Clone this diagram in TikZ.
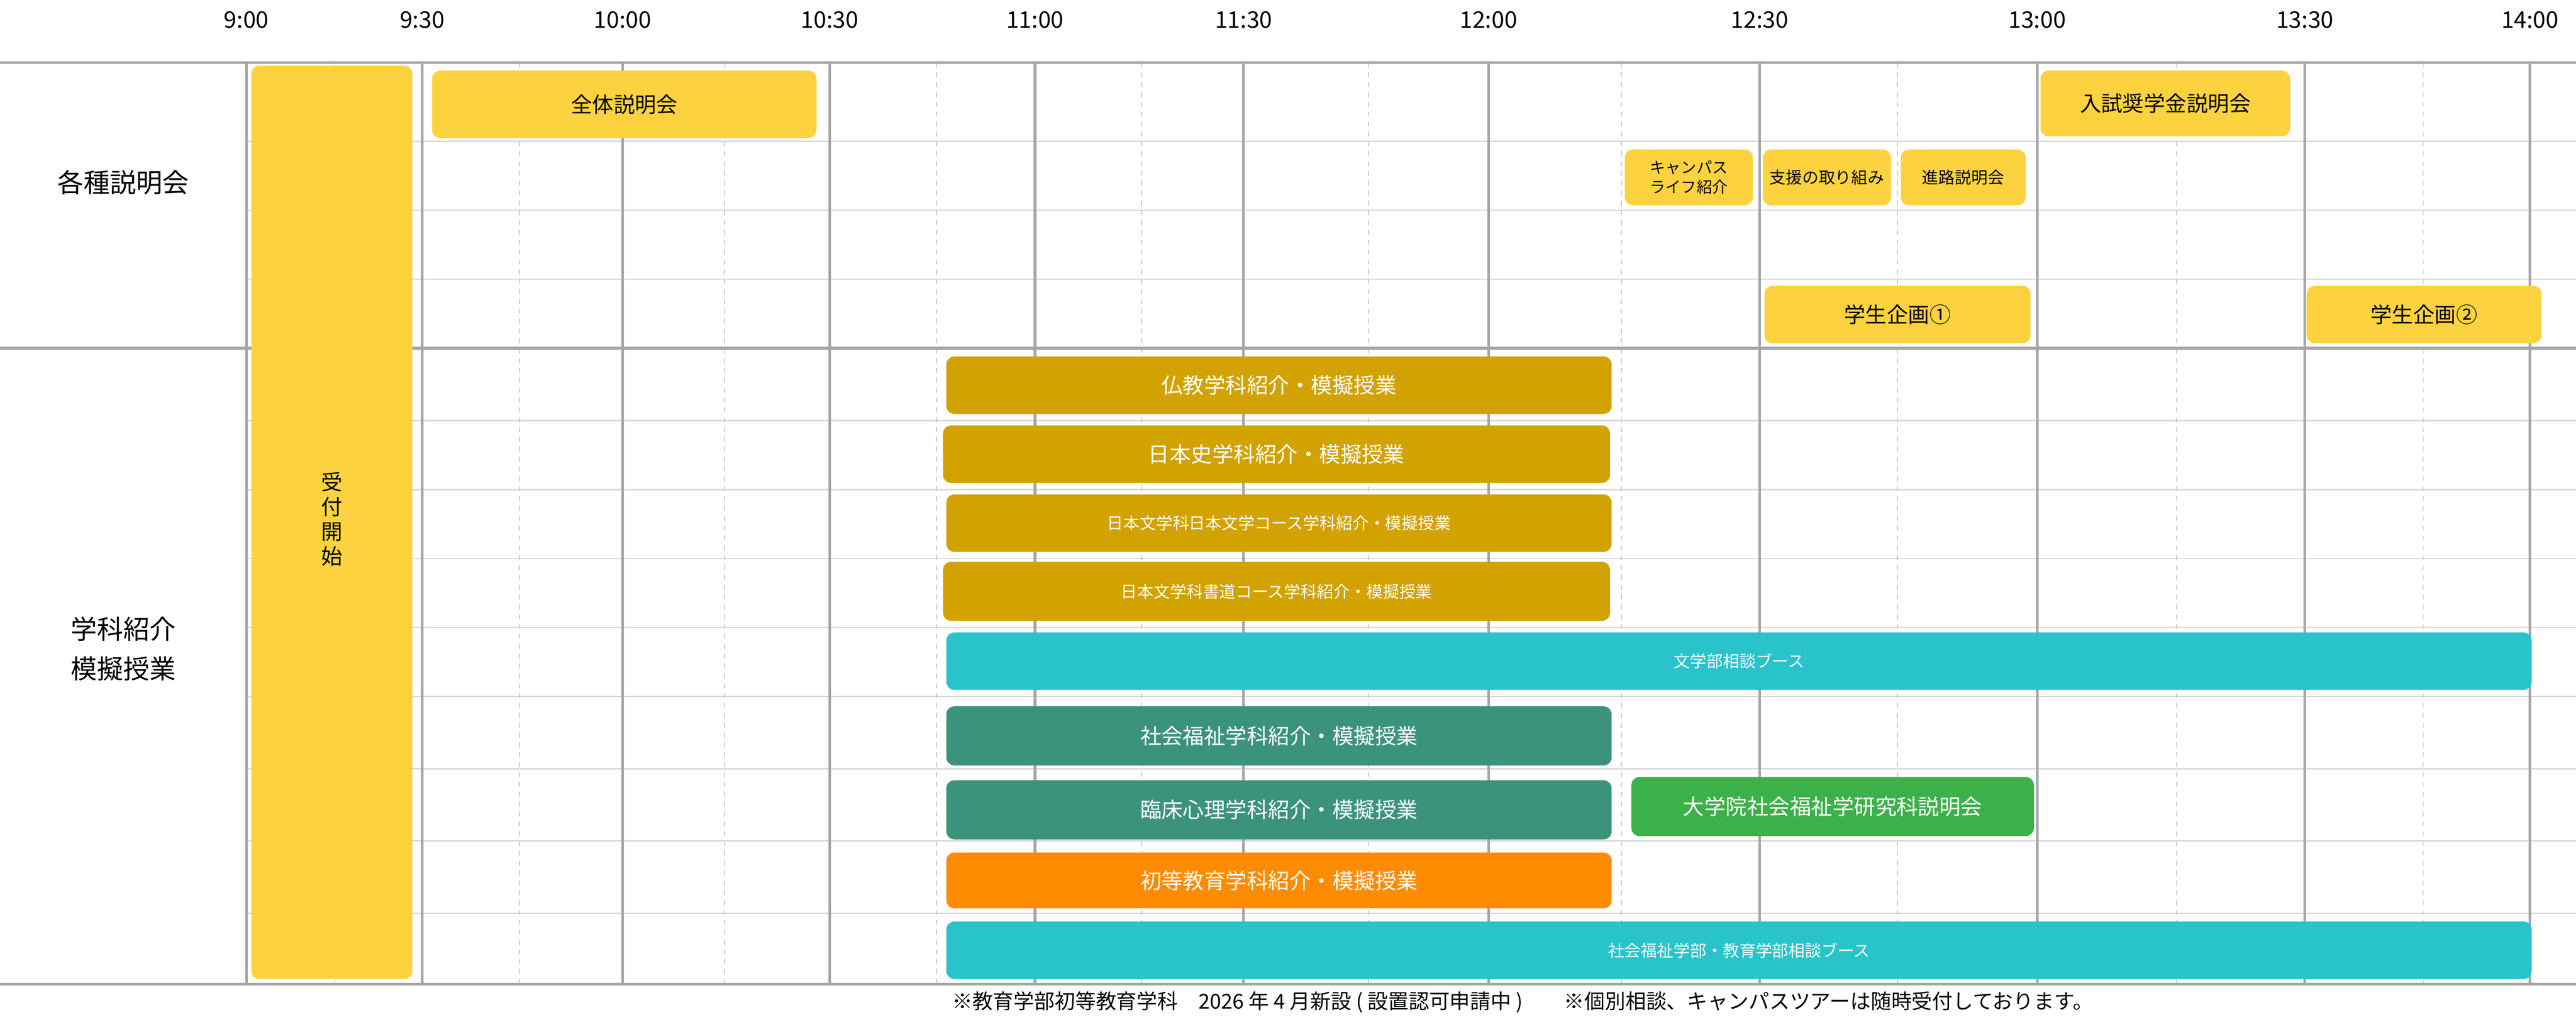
\documentclass[tikz,border=0pt]{standalone}
\usepackage{fontspec}
\setmainfont{Noto Sans CJK JP}
\begin{document}
\begin{tikzpicture}[x=1pt,y=-1pt,
  bx/.style={rounded corners=5pt,draw=none},
  ev/.style={font=\fontsize{13}{15}\selectfont},
  sm/.style={font=\fontsize{10}{12}\selectfont},
  major/.style={draw=black!35,line width=1.6pt},
  minor/.style={draw=black!22,dashed,line width=0.6pt},
  row/.style={draw=black!15,line width=0.8pt}]
\definecolor{yel}{HTML}{FCD33E}
\definecolor{gold}{HTML}{D1A200}
\definecolor{teal}{HTML}{28C3CB}
\definecolor{dgr}{HTML}{3A937A}
\definecolor{lgr}{HTML}{3CB14A}
\definecolor{org}{HTML}{FF8B00}
\useasboundingbox (0,0) rectangle (1568,622);
% row lines
\foreach \y in {86,128,170,256,298,340,382,424,468,512,556}
  \draw[row] (150,\y) -- (1568,\y);
% minor dashed lines
\foreach \x in {204,316,441,570,695,833,987,1155,1325,1475}
  \draw[minor] (\x,38) -- (\x,599);
% major lines and time labels
\foreach \x/\t in {150/9:00,257/9:30,379/10:00,505/10:30,630/11:00,757/11:30,906/12:00,1071/12:30,1240/13:00,1403/13:30,1540/14:00}{
  \draw[major] (\x,38) -- (\x,599);
  \node[font=\fontsize{14}{16}\selectfont] (t\x) at (\x,12) {\t};}
\draw[major] (0,38) -- (1568,38);
\draw[major] (0,212) -- (1568,212);
\draw[major] (0,599) -- (1568,599);
% left labels
\node[font=\fontsize{16}{18}\selectfont] (l1) at (75,111) {各種説明会};
\node[font=\fontsize{16}{18}\selectfont,align=center] (l2) at (75,395) {学科紹介\\[6pt]模擬授業};
% boxes
\newcommand{\bxx}[6]{\fill[bx,#1] (#2,#3) rectangle (#4,#5); \node[#6] at ({(#2+#4)/2},{(#3+#5)/2})}
\fill[bx,yel] (153,40) rectangle (251,596);
\node[ev,align=center] (uk) at (202,316) {受\\付\\開\\始};
\bxx{yel}{263}{43}{497}{84}{ev} (a1) {全体説明会};
\bxx{yel}{989}{91}{1067}{125}{sm,align=center,font=\fontsize{9.5}{12}\selectfont} (a2) {キャンパス\\ライフ紹介};
\bxx{yel}{1073}{91}{1151}{125}{sm} (a3) {支援の取り組み};
\bxx{yel}{1157}{91}{1233}{125}{sm} (a4) {進路説明会};
\bxx{yel}{1242}{43}{1394}{83}{ev} (a5) {入試奨学金説明会};
\bxx{yel}{1074}{174}{1236}{209}{ev} (a6) {学生企画①};
\bxx{yel}{1404}{174}{1547}{209}{ev} (a7) {学生企画②};
\bxx{gold}{576}{217}{981}{252}{ev,white} (b1) {仏教学科紹介・模擬授業};
\bxx{gold}{574}{259}{980}{294}{ev,white} (b2) {日本史学科紹介・模擬授業};
\bxx{gold}{576}{301}{981}{336}{sm,white} (b3) {日本文学科日本文学コース学科紹介・模擬授業};
\bxx{gold}{574}{342}{980}{378}{sm,white} (b4) {日本文学科書道コース学科紹介・模擬授業};
\bxx{teal}{576}{385}{1541}{420}{sm,white} (b5) {文学部相談ブース};
\bxx{dgr}{576}{430}{981}{466}{ev,white} (b6) {社会福祉学科紹介・模擬授業};
\bxx{dgr}{576}{475}{981}{511}{ev,white} (b7) {臨床心理学科紹介・模擬授業};
\bxx{lgr}{993}{473}{1238}{509}{ev,white} (b8) {大学院社会福祉学研究科説明会};
\bxx{org}{576}{519}{981}{553}{ev,white} (b9) {初等教育学科紹介・模擬授業};
\bxx{teal}{576}{561}{1541}{596}{sm,white} (b10) {社会福祉学部・教育学部相談ブース};
\node[anchor=west,font=\fontsize{12.5}{14}\selectfont] (fn) at (576,610) {※教育学部初等教育学科　2026 年 4 月新設 ( 設置認可申請中 )　　※個別相談、キャンパスツアーは随時受付しております。};
\end{tikzpicture}
\end{document}
